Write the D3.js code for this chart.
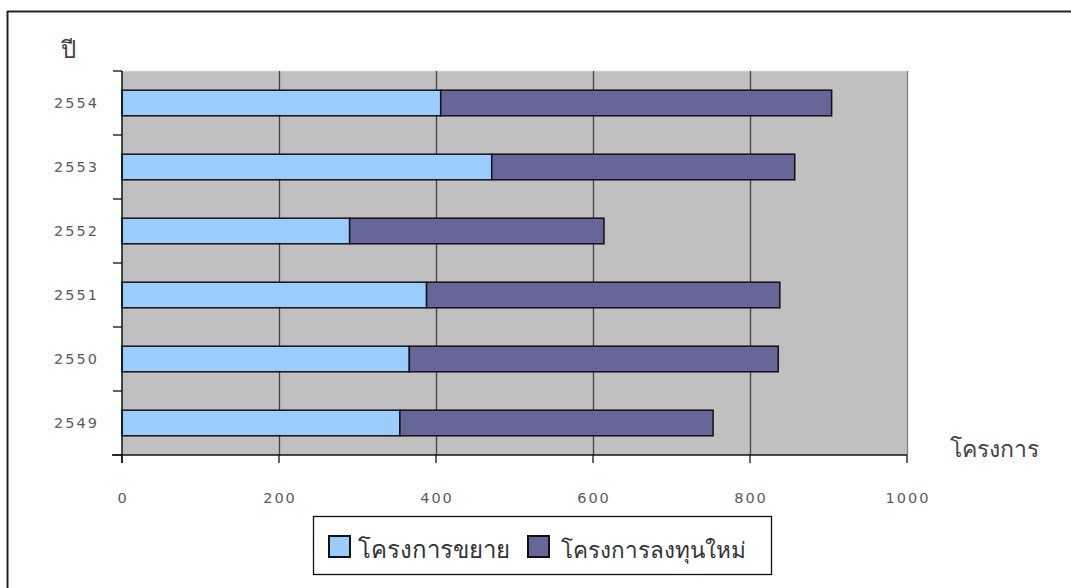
<!DOCTYPE html>
<html><head><meta charset="utf-8">
<script src="https://cdn.jsdelivr.net/npm/d3@7"></script>
<style>html,body{margin:0;padding:0;background:#fff;overflow:hidden;width:1071px;height:588px;}svg{display:block;}</style>
</head><body>
<svg id="c" width="1071" height="588"></svg>
<script>
const years = ["2554","2553","2552","2551","2550","2549"];
const expansion = [406, 471, 290, 388, 366, 354];
const newInvest = [498, 386, 324, 450, 470, 399];
const xTicks = [0, 200, 400, 600, 800, 1000];
const seriesNames = ["โครงการขยาย", "โครงการลงทุนใหม่"];
const colors = ["#99CCFF", "#666699"];

const svg = d3.select("#c");
const M = {left:122, right:907, top:71, bottom:455};
const x = d3.scaleLinear().domain([0,1000]).range([M.left, M.right]);
const y = d3.scaleBand().domain(years).range([M.top, M.bottom]).paddingInner(0.6).paddingOuter(0.3);
const yb = d3.scaleBand().domain(years).range([M.top, M.bottom]);
const numFont = "DejaVu Sans, Verdana, sans-serif";
const thaiFont = "Noto Sans, sans-serif";

// outer border (top and left visible)
svg.append("line").attr("x1",7.5).attr("x2",7.5).attr("y1",11).attr("y2",588).attr("stroke","#222").attr("stroke-width",2);
svg.append("line").attr("x1",7).attr("x2",1071).attr("y1",11.5).attr("y2",11.5).attr("stroke","#222").attr("stroke-width",2);

// plot background
svg.append("rect").attr("x",M.left).attr("y",M.top).attr("width",M.right-M.left).attr("height",M.bottom-M.top)
  .attr("fill","#C0C0C0");
svg.append("line").attr("x1",M.left).attr("x2",M.right).attr("y1",M.top).attr("y2",M.top).attr("stroke","#e0e0e0").attr("stroke-width",1);
// gridlines
svg.append("g").selectAll("line").data(xTicks.slice(1)).join("line")
  .attr("x1",d=>x(d)+0.5).attr("x2",d=>x(d)+0.5).attr("y1",M.top).attr("y2",M.bottom)
  .attr("stroke",d=>d===1000?"#808080":"#444").attr("stroke-width",1.3);

// stacked bars
const stackData = years.map((yr,i)=>({yr, a:expansion[i], b:newInvest[i]}));
const stack = d3.stack().keys(["a","b"])(stackData);
svg.append("g").selectAll("g").data(stack).join("g").attr("fill",(d,i)=>colors[i])
  .selectAll("rect").data(d=>d).join("rect")
  .attr("x",d=>x(d[0])).attr("width",d=>x(d[1])-x(d[0]))
  .attr("y",d=>y(d.data.yr)).attr("height",y.bandwidth())
  .attr("stroke","#111").attr("stroke-width",1.5);

// y axis
const yAxisG = svg.append("g");
yAxisG.append("line").attr("x1",M.left).attr("x2",M.left).attr("y1",M.top).attr("y2",M.bottom+8).attr("stroke","#111").attr("stroke-width",1.5);
const bounds = years.map(d=>yb(d)).concat([M.bottom]);
yAxisG.selectAll("line.t").data(bounds).join("line").attr("class","t")
  .attr("x1",M.left-9).attr("x2",M.left).attr("y1",d=>d).attr("y2",d=>d).attr("stroke","#111").attr("stroke-width",1.3);
yAxisG.selectAll("text").data(years).join("text")
  .attr("x",99).attr("y",d=>yb(d)+yb.bandwidth()/2).attr("dy","0.36em").attr("text-anchor","end")
  .attr("font-family",numFont).attr("font-size",14.5).attr("letter-spacing",2).attr("fill","#5a5a5a").text(d=>d);

// x axis
const xAxisG = svg.append("g");
xAxisG.append("line").attr("x1",M.left-10).attr("x2",M.right).attr("y1",M.bottom).attr("y2",M.bottom).attr("stroke","#111").attr("stroke-width",1.5);
xAxisG.selectAll("line.t").data(xTicks).join("line").attr("class","t")
  .attr("x1",d=>x(d)).attr("x2",d=>x(d)).attr("y1",M.bottom).attr("y2",M.bottom+8).attr("stroke","#111").attr("stroke-width",1.3);
xAxisG.selectAll("text").data(xTicks).join("text")
  .attr("x",d=>x(d)+1).attr("y",498).attr("dy","0.36em").attr("text-anchor","middle")
  .attr("font-family",numFont).attr("font-size",14.5).attr("letter-spacing",2).attr("fill","#5a5a5a").text(d=>d);

// axis titles
svg.append("text").attr("x",61).attr("y",58).attr("font-family",thaiFont).attr("font-size",24).attr("fill","#444").text("ปี");
svg.append("text").attr("x",950).attr("y",457).attr("font-family",thaiFont).attr("font-size",23).attr("fill","#444").text("โครงการ");

// legend
const lg = svg.append("g");
lg.append("rect").attr("x",313.5).attr("y",516.5).attr("width",458).attr("height",58).attr("fill","#fff").attr("stroke","#111").attr("stroke-width",1.3);
const sx = [329, 528];
const tx = [358, 561];
const fs = [24, 22.5];
seriesNames.forEach((n,i)=>{
  lg.append("rect").attr("x",sx[i]).attr("y",536).attr("width",21).attr("height",21).attr("fill",colors[i]).attr("stroke","#111").attr("stroke-width",2);
  lg.append("text").attr("x",tx[i]).attr("y",558).attr("font-family",thaiFont).attr("font-size",fs[i]).attr("fill","#333").text(n);
});
</script>
</body></html>
